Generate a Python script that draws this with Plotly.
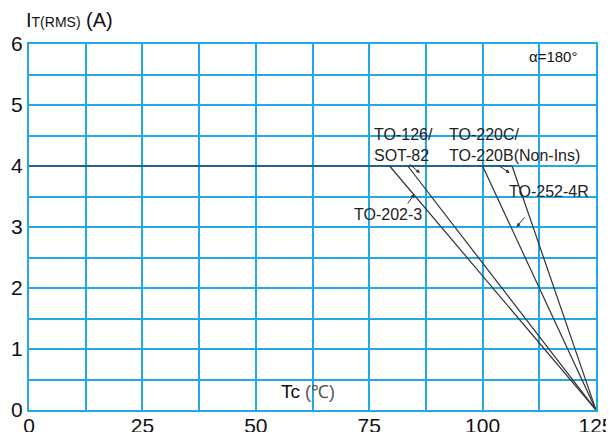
import plotly.graph_objects as go

# Data
packages = ["TO-202-3", "TO-126/SOT-82", "TO-220C/TO-220B(Non-Ins)", "TO-252-4R"]
knee_tc = [79.5, 83.5, 100.0, 106.5]   # Tc where derating starts (°C)
i_max = 4.0                            # A
tc_end = 125.0                         # A=0 at 125 °C
x_ticks = [0, 25, 50, 75, 100, 125]
y_ticks = [0, 1, 2, 3, 4, 5, 6]

grid = "#22A8E4"
FONT = "Liberation Sans, Arial, sans-serif"

fig = go.Figure()
# flat part at 4 A
fig.add_trace(go.Scatter(x=[0, max(knee_tc)], y=[i_max, i_max], mode="lines",
                         line=dict(color="#222222", width=1.2), showlegend=False))
for k in knee_tc:
    fig.add_trace(go.Scatter(x=[k, tc_end], y=[i_max, 0], mode="lines",
                             line=dict(color="#333333", width=1.2), showlegend=False))

# page body has an 8px margin: compensate so the plot lands where the reference has it
fig.update_layout(
    width=606, height=424,
    margin=dict(l=21, r=18, t=36, b=22),
    plot_bgcolor="white", paper_bgcolor="white",
    font=dict(family=FONT, color="#111111"),
    showlegend=False,
)
fig.update_xaxes(range=[0, 125], tickvals=x_ticks, ticktext=[str(v) for v in x_ticks],
                 showgrid=True, gridcolor=grid, gridwidth=1.5,
                 minor=dict(dtick=12.5, showgrid=True, gridcolor=grid, gridwidth=1.5),
                 showline=True, linecolor=grid, linewidth=2, mirror=True,
                 zeroline=False, ticks="", tickfont=dict(size=21, color="#111111"),
                 ticklabelstandoff=-4, automargin=False)
fig.update_yaxes(range=[0, 6], tickvals=y_ticks, ticktext=[str(v) for v in y_ticks],
                 showgrid=True, gridcolor=grid, gridwidth=1.5,
                 minor=dict(dtick=0.5, showgrid=True, gridcolor=grid, gridwidth=1.5),
                 showline=True, linecolor=grid, linewidth=2, mirror=True,
                 zeroline=False, ticks="", tickfont=dict(size=21, color="#111111"),
                 automargin=False)

ann = []
# axis titles
ann.append(dict(xref="paper", yref="paper", x=-0.008, y=1.066, xanchor="left", yanchor="middle",
                showarrow=False,
                text="<span style='font-size:20px'>I</span><span style='font-size:14px'>T(RMS)</span><span style='font-size:20px'> (A)</span>",
                font=dict(family=FONT, color="#111111")))
ann.append(dict(x=61.5, y=0.3, xanchor="center", yanchor="middle", showarrow=False,
                text="<span style='font-size:19px'>Tc</span><span style='font-size:18px;color:#555555'> (℃)</span>",
                font=dict(family=FONT, color="#111111")))
ann.append(dict(x=109.8, y=5.79, xanchor="left", yanchor="middle", showarrow=False,
                text="α=180°", font=dict(family=FONT, size=15, color="#111111")))

# curve labels
labels = [
    ("TO-126/<br>SOT-82", 75.6, 4.34),
    ("TO-220C/<br>TO-220B(Non-Ins)", 92.2, 4.34),
    ("TO-202-3", 71.2, 3.2),
    ("TO-252-4R", 105.4, 3.59),
]
for t, x, y in labels:
    ann.append(dict(x=x, y=y, xanchor="left", yanchor="middle", showarrow=False, align="left",
                    text=t, font=dict(family=FONT, size=16, color="#222222")))

# arrows (tip in data coords, tail offset in px)
arrows = [(86.2, 3.885, -12, -10), (106.0, 3.885, -12, -8),
          (85.0, 3.54, -8, 11), (107.5, 3.0, 9, -11)]
for x, y, ax, ay in arrows:
    ann.append(dict(x=x, y=y, ax=ax, ay=ay, text="", showarrow=True,
                    arrowhead=2, arrowsize=0.8, arrowwidth=1, arrowcolor="#333333"))

fig.update_layout(annotations=ann)
fig.write_html("out.html")
